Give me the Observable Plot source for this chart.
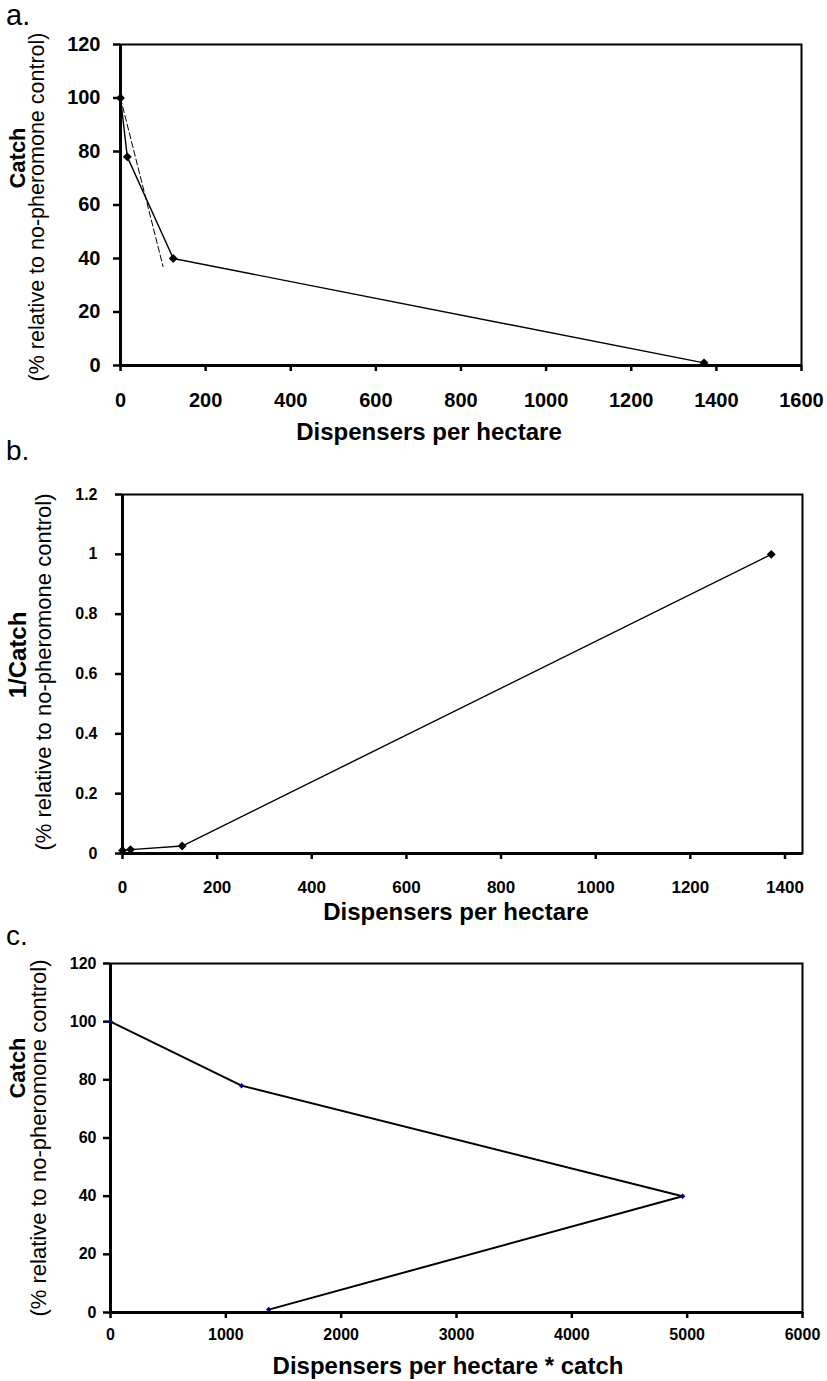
<!DOCTYPE html>
<html><head><meta charset="utf-8">
<script src="https://cdn.jsdelivr.net/npm/d3@7"></script>
<script src="https://cdn.jsdelivr.net/npm/@observablehq/plot@0.6"></script>
<style>
body{margin:0;background:#fff;}
#wrap{position:relative;width:827px;height:1381px;overflow:hidden;}
#wrap svg{position:absolute;left:0;}
</style></head><body><div id="wrap"></div>
<script>
// ---- data ----
const dispensersA = [0, 16, 124, 1371];
const catchA = [100, 78, 40, 1];
const guideX = [0, 100];
const guideY = [100, 37];

const dispensersB = [0, 17, 126, 1371];
const invCatchB = [0.01, 0.013, 0.025, 1];

const productC = [0, 1136, 4960, 1372];
const catchC = [100, 78, 40, 1];

// ---- ticks / labels ----
const ticksXA = [0, 200, 400, 600, 800, 1000, 1200, 1400, 1600];
const ticksYA = [0, 20, 40, 60, 80, 100, 120];
const ticksXB = [0, 200, 400, 600, 800, 1000, 1200, 1400];
const ticksYB = [0, 0.2, 0.4, 0.6, 0.8, 1, 1.2];
const ticksXC = [0, 1000, 2000, 3000, 4000, 5000, 6000];
const ticksYC = [0, 20, 40, 60, 80, 100, 120];

const panelLetters = ["a.", "b.", "c."];
const yTitleA = ["Catch", "(% relative to no-pheromone control)"];
const yTitleB = ["1/Catch", "(% relative to no-pheromone control)"];
const yTitleC = ["Catch", "(% relative to no-pheromone control)"];
const xTitleA = "Dispensers per hectare";
const xTitleB = "Dispensers per hectare";
const xTitleC = "Dispensers per hectare * catch";

const FONT = '"Liberation Sans", Arial, Helvetica, sans-serif';
const fmt = d => String(d);
const wrap = document.getElementById("wrap");

function panel(cfg) {
  const rows = cfg.x.map((x, i) => ({x, y: cfg.y[i]}));
  const marks = [
    Plot.frame({strokeWidth: 2}),
    Plot.axisX({ticks: cfg.xTicks, tickFormat: fmt, tickSize: 6, tickPadding: cfg.xPad,
      fontSize: cfg.xFont, fontWeight: "bold", strokeWidth: 2.5, label: null}),
    Plot.axisY({ticks: cfg.yTicks, tickFormat: fmt, tickSize: 7, tickPadding: cfg.yPad,
      fontSize: cfg.yFont, fontWeight: "bold", strokeWidth: 2.5, label: null}),
    Plot.ruleX([cfg.xDomain[0]], {strokeWidth: 3}),
    Plot.ruleY([cfg.yDomain[0]], {strokeWidth: 3})
  ];
  if (cfg.guide) {
    const g = cfg.guide.x.map((x, i) => ({x, y: cfg.guide.y[i]}));
    marks.push(Plot.line(g, {x: "x", y: "y", stroke: "black", strokeWidth: 1, strokeDasharray: "6,3"}));
  }
  marks.push(Plot.line(rows, {x: "x", y: "y", stroke: "black", strokeWidth: cfg.lineWidth}));
  marks.push(Plot.dot(rows, {x: "x", y: "y", symbol: "diamond2", r: cfg.dotR, fill: cfg.dotColor, stroke: "none"}));
  const svg = Plot.plot({
    width: 827, height: cfg.height,
    marginTop: cfg.mt, marginBottom: cfg.mb, marginLeft: cfg.ml, marginRight: cfg.mr,
    style: {fontFamily: FONT, background: "transparent", color: "black", overflow: "visible"},
    x: {domain: cfg.xDomain, label: null},
    y: {domain: cfg.yDomain, label: null},
    marks
  });
  svg.style.top = cfg.top + "px";
  const s = d3.select(svg);
  s.append("text").attr("x", 6).attr("y", cfg.letterY).attr("font-size", cfg.letterSize)
    .attr("text-anchor", "start").attr("font-family", FONT).text(cfg.letter);
  s.append("text").attr("transform", `translate(${cfg.t1x},${cfg.t1y}) rotate(-90)`)
    .attr("text-anchor", "middle").attr("font-size", cfg.t1size).attr("font-weight", "bold")
    .attr("font-family", FONT).text(cfg.yTitle[0]);
  s.append("text").attr("transform", `translate(${cfg.t2x},${cfg.t2y}) rotate(-90)`)
    .attr("text-anchor", "middle").attr("font-size", cfg.t2size)
    .attr("font-family", FONT).text(cfg.yTitle[1]);
  s.append("text").attr("x", cfg.xtX).attr("y", cfg.xtY).attr("text-anchor", "middle")
    .attr("font-size", 24).attr("font-weight", "bold").attr("font-family", FONT).text(cfg.xTitle);
  wrap.appendChild(svg);
}

panel({
  top: 0, height: 445, mt: 44, mb: 80, ml: 120, mr: 26,
  x: dispensersA, y: catchA, xDomain: [0, 1600], yDomain: [0, 120],
  xTicks: ticksXA, yTicks: ticksYA, xPad: 21, yPad: 13, xFont: 20, yFont: 20,
  guide: {x: guideX, y: guideY}, lineWidth: 1.4, dotR: 4, dotColor: "black",
  letter: panelLetters[0], letterY: 25, letterSize: 29,
  yTitle: yTitleA, t1x: 25, t1y: 158, t1size: 22, t2x: 44, t2y: 207, t2size: 21.5,
  xTitle: xTitleA, xtX: 429, xtY: 440
});

panel({
  top: 445, height: 480, mt: 49, mb: 72, ml: 122, mr: 25,
  x: dispensersB, y: invCatchB, xDomain: [0, 1437], yDomain: [0, 1.2],
  xTicks: ticksXB, yTicks: ticksYB, xPad: 21, yPad: 18, xFont: 17, yFont: 16,
  lineWidth: 1.4, dotR: 4, dotColor: "black",
  letter: panelLetters[1], letterY: 15, letterSize: 28,
  yTitle: yTitleB, t1x: 26, t1y: 210, t1size: 24, t2x: 51, t2y: 227, t2size: 22,
  xTitle: xTitleB, xtX: 456, xtY: 475
});

panel({
  top: 925, height: 456, mt: 38, mb: 69, ml: 110, mr: 25,
  x: productC, y: catchC, xDomain: [0, 6000], yDomain: [0, 120],
  xTicks: ticksXC, yTicks: ticksYC, xPad: 10, yPad: 7, xFont: 16, yFont: 16,
  lineWidth: 2, dotR: 2.5, dotColor: "#000080",
  letter: panelLetters[2], letterY: 20, letterSize: 28,
  yTitle: yTitleC, t1x: 25, t1y: 143, t1size: 22, t2x: 46, t2y: 213, t2size: 22,
  xTitle: xTitleC, xtX: 448, xtY: 449
});
</script></body></html>
